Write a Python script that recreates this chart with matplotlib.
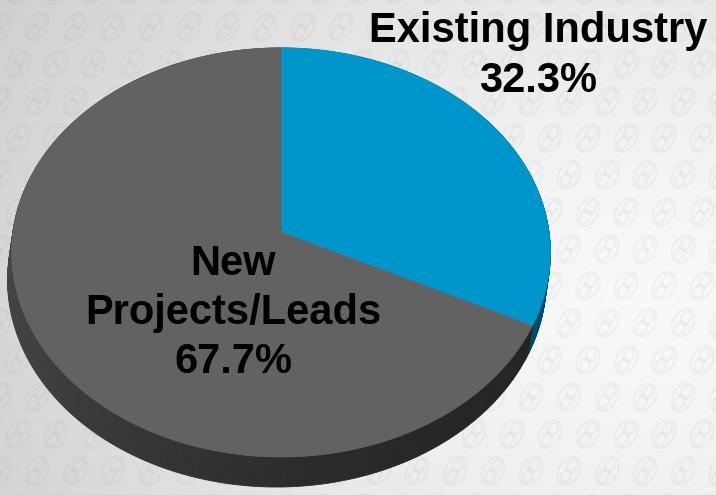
import numpy as np
import matplotlib.pyplot as plt
from matplotlib.collections import PolyCollection, EllipseCollection

# -----------------------------
# Data
# -----------------------------
labels = ["Existing Industry", "New\nProjects/Leads"]
shares = [32.3, 67.7]
top_colors = [(0.0, 0.588, 0.80), (0.384, 0.384, 0.384)]

# -----------------------------
# Figure in pixel coordinates
# -----------------------------
W, H = 716, 495
fig = plt.figure(figsize=(W / 100, H / 100), dpi=100)
ax = fig.add_axes([0, 0, 1, 1])
ax.set_xlim(0, W)
ax.set_ylim(H, 0)
ax.axis("off")

# background gradient (darker on the left, near white to the right)
yy, xx = np.mgrid[0:H, 0:W]
r = np.hypot(xx - 640, (yy - 300) * 1.2)
bg = 0.975 - 0.15 * (r / 700) ** 1.4
bg = np.clip(bg, 0.80, 0.98)
ax.imshow(np.dstack([bg, bg, bg]), extent=[0, W, H, 0], zorder=0,
          interpolation="bilinear")

# faint embossed ring pattern
offs, sizes = [], []
for j, y0 in enumerate(np.arange(-10, H + 30, 37)):
    for x0 in np.arange(-20 + (j % 2) * 19, W + 30, 38):
        offs += [(x0 - 3, y0 + 5), (x0 + 3, y0 - 5), (x0, y0)]
        sizes += [(9, 14), (9, 14), (20, 30)]
offs = np.array(offs)
sizes = np.array(sizes, dtype=float)
ax.add_collection(EllipseCollection(
    widths=sizes[:, 0], heights=sizes[:, 1],
    angles=np.full(len(offs), 30.0), units="xy", offsets=offs,
    offset_transform=ax.transData, facecolors="none",
    edgecolors=(0.55, 0.55, 0.55, 0.07), linewidths=1.6, zorder=1))

# -----------------------------
# Perspective pie geometry
# -----------------------------
CX, CY = 281, 232
A, B, K = 268, 202.5, 0.10
DX, DY = -4, 27


def proj(t):
    u, v = np.cos(t), np.sin(t)
    w = 1 + K * v
    return CX + A * u / w, CY - B * v / w, w


fracs = np.array(shares) / sum(shares)
starts = np.pi / 2 - np.concatenate([[0], np.cumsum(fracs)[:-1]]) * 2 * np.pi
ends = starts - fracs * 2 * np.pi

# side wall
for i in range(len(shares)):
    t = np.linspace(starts[i], ends[i], 400)
    x, y, w = proj(t)
    dx, dy = DX / w, DY / w
    quads, cols = [], []
    for k in range(len(t) - 1):
        quads.append([(x[k], y[k]), (x[k + 1], y[k + 1]),
                      (x[k + 1] + dx[k + 1], y[k + 1] + dy[k + 1]),
                      (x[k] + dx[k], y[k] + dy[k])])
        b = (54 + 18 * np.cos(t[k] - np.radians(150))) / 255
        if i == 0:
            f = b / 0.384 * 1.35
            c = (top_colors[0][0] * f, top_colors[0][1] * f, top_colors[0][2] * f)
        else:
            c = (b, b, b)
        cols.append(c)
    ax.add_collection(PolyCollection(quads, facecolors=cols, edgecolors=cols,
                                     linewidths=0.6, zorder=2))

# top faces
for i in range(len(shares)):
    t = np.linspace(starts[i], ends[i], 400)
    x, y, _ = proj(t)
    px = np.concatenate([[CX], x])
    py = np.concatenate([[CY], y])
    ax.fill(px, py, color=top_colors[i], lw=0.5, ec=top_colors[i], zorder=3)

# -----------------------------
# Labels
# -----------------------------
font = dict(family=["Liberation Sans", "DejaVu Sans"], fontweight="bold",
            fontsize=30, color="black", ha="center", va="center", zorder=5)
ax.text(538, 56, f"{labels[0]}\n{shares[0]:.1f}%", linespacing=1.34, **font)
ax.text(233, 313, f"{labels[1]}\n{shares[1]:.1f}%", linespacing=1.28, **font)

fig.savefig("out.png", dpi=100)
